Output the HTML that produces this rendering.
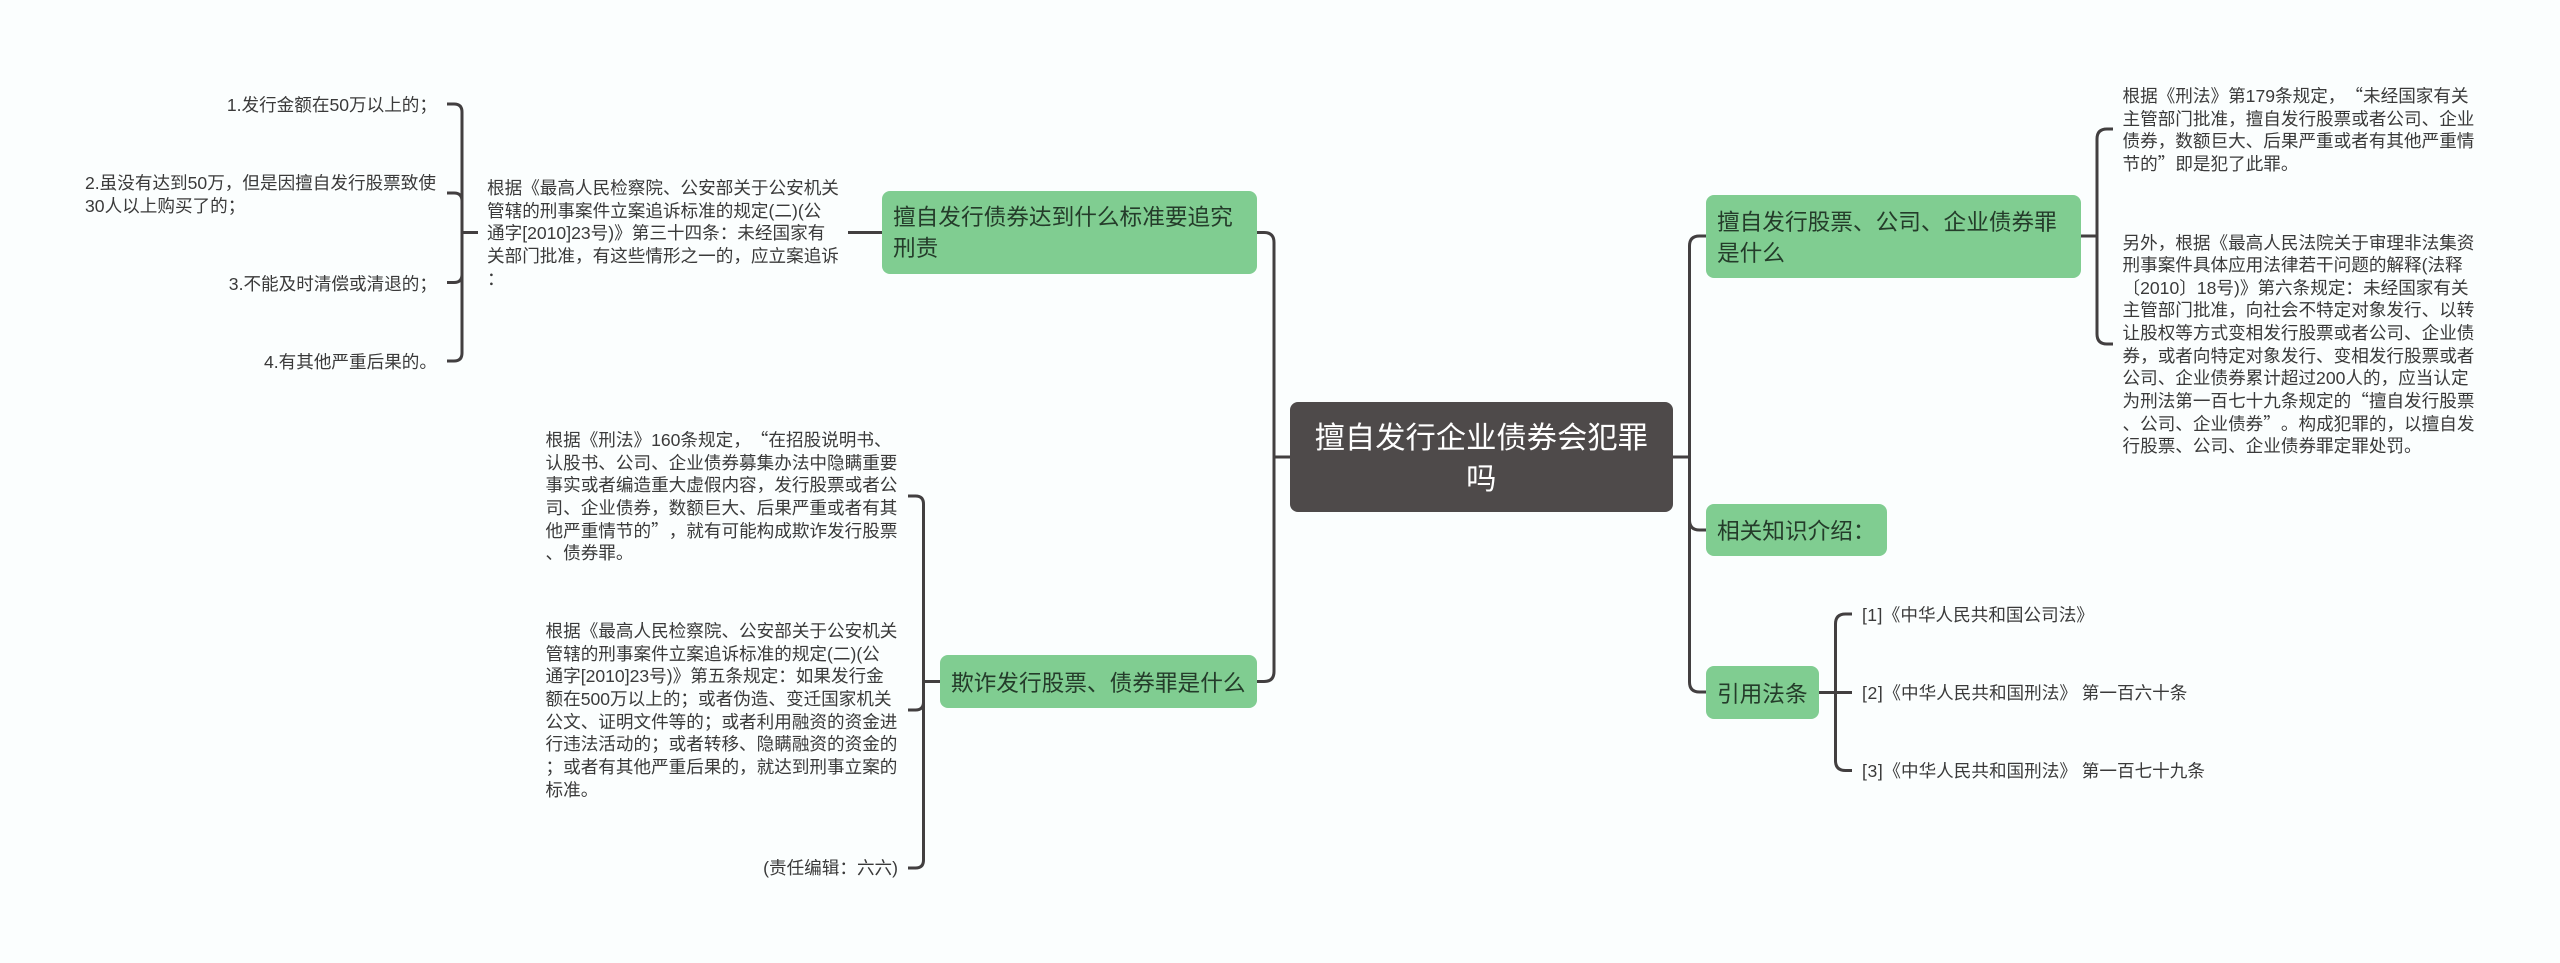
<!DOCTYPE html>
<html lang="zh-CN">
<head>
<meta charset="utf-8">
<title>擅自发行企业债券会犯罪吗</title>
<style>
html,body{margin:0;padding:0;background:#fbfefe;}
body{width:2560px;height:963px;position:relative;overflow:hidden;font-family:"Liberation Sans","Noto Sans CJK SC",sans-serif;text-spacing-trim:space-all;}
svg{position:absolute;left:0;top:0;}
.n{position:absolute;box-sizing:border-box;background:#80cd91;border-radius:8px;color:#243c2a;font-size:22.67px;line-height:30.5px;white-space:nowrap;}
.c{position:absolute;box-sizing:border-box;background:#4e4a4a;border-radius:8px;color:#fff;font-size:30.3px;line-height:41px;text-align:center;left:1290px;top:402px;width:382.5px;height:110px;padding-top:16px;}
.t{position:absolute;color:#3a3a3a;font-size:17.6px;line-height:22.65px;white-space:nowrap;}
.r{text-align:right;}
.q{font-family:"Noto Sans CJK SC",sans-serif;}
</style>
</head>
<body>
<svg width="2560" height="963" viewBox="0 0 2560 963" fill="none" stroke="#423f40" stroke-width="3">
  <!-- central left -->
  <path d="M1290 457H1274"/>
  <path d="M1257 232.500H1264Q1274 232.500 1274 242.500V671.500Q1274 681.500 1264 681.500H1257"/>
  <!-- central right -->
  <path d="M1672 457H1689.500"/>
  <path d="M1706 236H1699.500Q1689.500 236 1689.500 246V520Q1689.500 530 1699.500 530H1706"/>
  <path d="M1689.500 520V682Q1689.500 692 1699.500 692H1706"/>
  <!-- right branch 1 -->
  <path d="M2081 236H2097"/>
  <path d="M2113 129H2107Q2097 129 2097 139V334Q2097 344 2107 344H2113"/>
  <!-- citations -->
  <path d="M1819 692.500H1852"/>
  <path d="M1852 614H1845.500Q1835.500 614 1835.500 624V760.500Q1835.500 770.500 1845.500 770.500H1852"/>
  <!-- left top -->
  <path d="M882 232.500H848"/>
  <path d="M478 232.500H462"/>
  <path d="M447 104H454Q462 104 462 112V353Q462 361 454 361H447"/>
  <path d="M447 193H454Q462 193 462 201"/>
  <path d="M447 282.500H454Q462 282.500 462 274.500"/>
  <!-- left lower -->
  <path d="M940 681.500H923.500"/>
  <path d="M908 496H915.500Q923.500 496 923.500 504V860Q923.500 868 915.500 868H908"/>
  <path d="M908 710H915.500Q923.500 710 923.500 702"/>
</svg>

<div class="c">擅自发行企业债券会犯罪<br>吗</div>

<div class="n" style="left:882px;top:191px;width:375px;height:83px;padding:11px 0 0 11px;line-height:31px;">擅自发行债券达到什么标准要追究<br>刑责</div>
<div class="n" style="left:940px;top:655px;width:317px;height:53px;padding:13px 0 0 11px;">欺诈发行股票、债券罪是什么</div>
<div class="n" style="left:1706px;top:195px;width:375px;height:83px;padding:12px 0 0 11px;">擅自发行股票、公司、企业债券罪<br>是什么</div>
<div class="n" style="left:1706px;top:504px;width:180.500px;height:52px;padding:12px 0 0 11px;">相关知识介绍：</div>
<div class="n" style="left:1706px;top:666px;width:113px;height:53px;padding:12.500px 0 0 11px;">引用法条</div>

<div class="t r" style="left:85px;width:352px;top:93.500px;">1.发行金额在50万以上的；</div>
<div class="t r" style="left:85px;width:352px;top:172px;text-align:left;">2.虽没有达到50万，但是因擅自发行股票致使<br>30人以上购买了的；</div>
<div class="t r" style="left:85px;width:352px;top:272.500px;">3.不能及时清偿或清退的；</div>
<div class="t r" style="left:85px;width:352px;top:351px;">4.有其他严重后果的。</div>

<div class="t" style="left:487px;top:177px;">根据《最高人民检察院、公安部关于公安机关<br>管辖的刑事案件立案追诉标准的规定(二)(公<br>通字[2010]23号)》第三十四条：未经国家有<br>关部门批准，有这些情形之一的，应立案追诉<br>：</div>

<div class="t" style="left:545.500px;top:429px;">根据《刑法》160条规定，<span class="q">“</span>在招股说明书、<br>认股书、公司、企业债券募集办法中隐瞒重要<br>事实或者编造重大虚假内容，发行股票或者公<br>司、企业债券，数额巨大、后果严重或者有其<br>他严重情节的<span class="q">”</span>，就有可能构成欺诈发行股票<br>、债券罪。</div>

<div class="t" style="left:545.500px;top:620px;">根据《最高人民检察院、公安部关于公安机关<br>管辖的刑事案件立案追诉标准的规定(二)(公<br>通字[2010]23号)》第五条规定：如果发行金<br>额在500万以上的；或者伪造、变迁国家机关<br>公文、证明文件等的；或者利用融资的资金进<br>行违法活动的；或者转移、隐瞒融资的资金的<br>；或者有其他严重后果的，就达到刑事立案的<br>标准。</div>

<div class="t r" style="left:546px;width:352px;top:857px;">(责任编辑：六六)</div>

<div class="t" style="left:2122.500px;top:85px;">根据《刑法》第179条规定，<span class="q">“</span>未经国家有关<br>主管部门批准，擅自发行股票或者公司、企业<br>债券，数额巨大、后果严重或者有其他严重情<br>节的<span class="q">”</span>即是犯了此罪。</div>

<div class="t" style="left:2122.500px;top:231.500px;">另外，根据《最高人民法院关于审理非法集资<br>刑事案件具体应用法律若干问题的解释(法释<br>〔2010〕18号)》第六条规定：未经国家有关<br>主管部门批准，向社会不特定对象发行、以转<br>让股权等方式变相发行股票或者公司、企业债<br>券，或者向特定对象发行、变相发行股票或者<br>公司、企业债券累计超过200人的，应当认定<br>为刑法第一百七十九条规定的<span class="q">“</span>擅自发行股票<br>、公司、企业债券<span class="q">”</span>。构成犯罪的，以擅自发<br>行股票、公司、企业债券罪定罪处罚。</div>

<div class="t" style="left:1862px;top:603.500px;"><span style="letter-spacing:.4px">[1]</span>《中华人民共和国公司法》</div>
<div class="t" style="left:1862px;top:681.500px;"><span style="letter-spacing:.6px">[2]</span>《中华人民共和国刑法》 第一百六十条</div>
<div class="t" style="left:1862px;top:759.500px;"><span style="letter-spacing:.6px">[3]</span>《中华人民共和国刑法》 第一百七十九条</div>
</body>
</html>
